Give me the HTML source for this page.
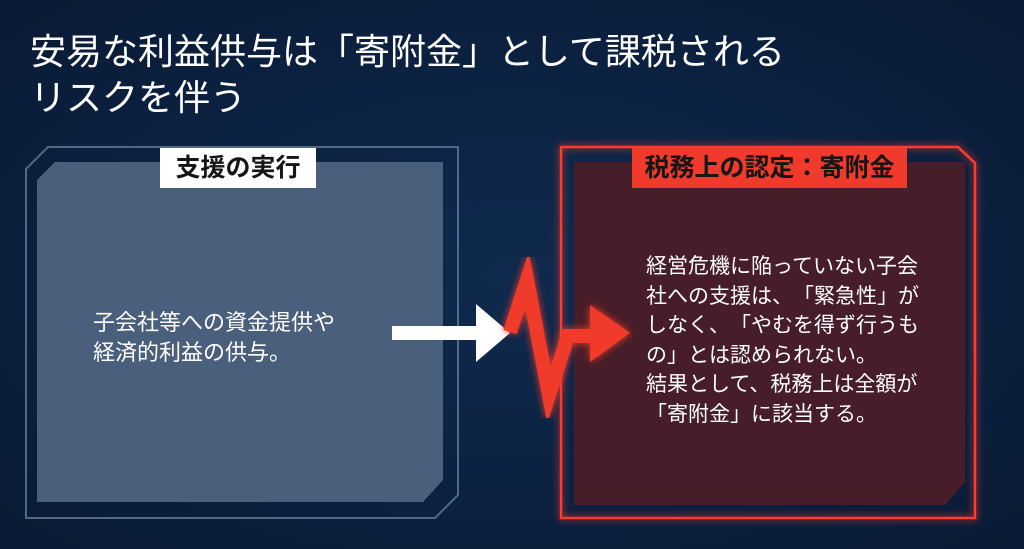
<!DOCTYPE html>
<html><head><meta charset="utf-8"><style>
html,body{margin:0;padding:0;}
body{width:1024px;height:549px;overflow:hidden;background:radial-gradient(ellipse at 50% 50%,#0f2a4e 0%,#0b1f3d 70%,#091a34 100%);font-family:"Liberation Sans","Noto Sans CJK JP",sans-serif;position:relative;text-spacing-trim:space-all;}
.t{position:absolute;left:30px;color:#fff;font-size:36px;line-height:46px;white-space:nowrap;}
.lab{position:absolute;height:40px;line-height:40px;font-weight:bold;font-size:25px;color:#151515;text-align:center;white-space:nowrap;}
.txt{position:absolute;color:#fff;white-space:nowrap;}
</style></head><body>
<div class="t" style="top:29px">安易な利益供与は「寄附金」として課税される</div>
<div class="t" style="top:75px">リスクを伴う</div>
<svg width="1024" height="549" style="position:absolute;left:0;top:0">
<defs>
<filter id="g" x="-20%" y="-20%" width="140%" height="140%"><feGaussianBlur stdDeviation="4" result="b"/><feMerge><feMergeNode in="b"/><feMergeNode in="SourceGraphic"/></feMerge></filter>
</defs>
<polygon points="48,147 458,147 458,495 435,518 26,518 26,169" fill="none" stroke="#4f6a87" stroke-width="2"/>
<polygon points="55,162 443,162 443,480 423,502 37,502 37,180" fill="#4a5f7b"/>
<polygon points="561,147 958,147 975,163 975,518 561,518" fill="none" stroke="#ff3a2e" stroke-width="2.5" filter="url(#g)"/>
<polygon points="574,162 965,162 965,482 945,505 574,505" fill="#461d28"/>
<rect x="392" y="326" width="86" height="14" fill="#fff"/>
<polygon points="476,304 510,333 476,362" fill="#fff"/>
<g filter="url(#g)">
<polyline points="510,332 527,280 549,395 568,336 596,336" fill="none" stroke="#f03a2c" stroke-width="14" stroke-linejoin="miter" stroke-miterlimit="10"/>
<polygon points="590,305 630,333 590,362" fill="#f03a2c"/>
</g>
</svg>
<div class="lab" style="left:160px;top:148px;width:156px;background:#fff;">支援の実行</div>
<div class="lab" style="left:632px;top:148px;width:275px;background:#f03a2c;">税務上の認定：寄附金</div>
<div class="txt" style="left:93px;top:308px;font-size:22px;line-height:30px;">子会社等への資金提供や<br>経済的利益の供与。</div>
<div class="txt" style="left:646px;top:252px;font-size:21px;line-height:29.6px;">経営危機に陥っていない子会<br>社への支援は、「緊急性」が<br>しなく、「やむを得ず行うも<br>の」とは認められない。<br>結果として、税務上は全額が<br>「寄附金」に該当する。</div>
</body></html>
